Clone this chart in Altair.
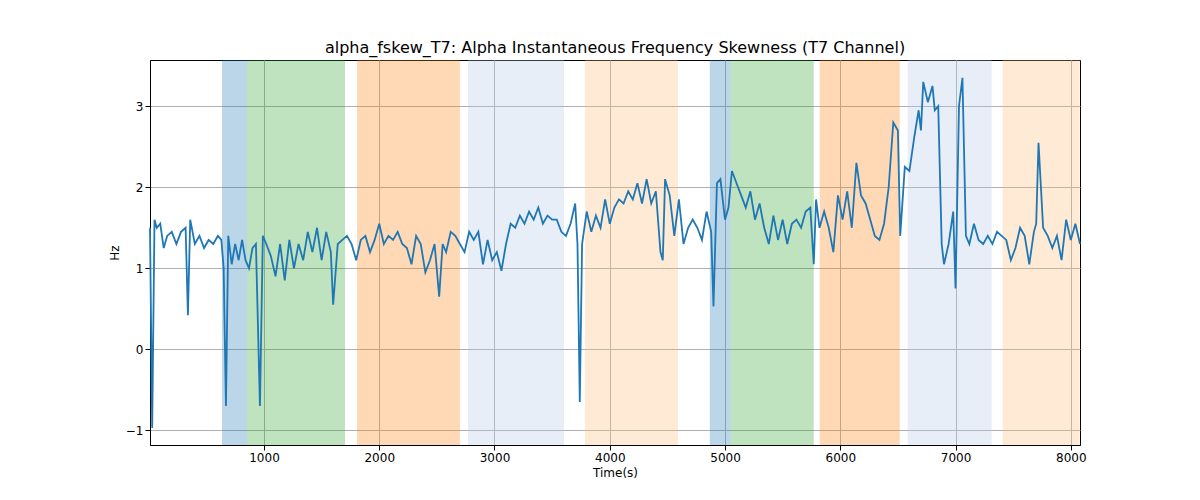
import altair as alt
import pandas as pd

# time (s) and skewness values
t = [11, 30, 50, 70, 100, 130, 160, 200, 240, 280, 320, 340, 360, 400, 440, 480, 520, 560, 600, 630,
     650, 670, 690, 720, 750, 780, 810, 840, 870, 900, 930, 965, 990, 1020, 1060, 1100, 1140, 1180, 1220, 1260,
     1300, 1340, 1380, 1420, 1460, 1500, 1540, 1580, 1600, 1640, 1680, 1720, 1760, 1800, 1840, 1880, 1920, 1960, 2000, 2040,
     2080, 2120, 2160, 2200, 2240, 2280, 2320, 2360, 2400, 2440, 2480, 2520, 2550, 2580, 2620, 2660, 2700, 2740, 2780, 2820,
     2860, 2900, 2940, 2980, 3020, 3060, 3100, 3140, 3180, 3220, 3260, 3300, 3340, 3380, 3420, 3460, 3500, 3540, 3580, 3620,
     3660, 3700, 3720, 3740, 3760, 3800, 3840, 3880, 3920, 3960, 4000, 4040, 4080, 4120, 4160, 4200, 4240, 4280, 4320, 4360,
     4400, 4440, 4460, 4480, 4520, 4560, 4600, 4640, 4680, 4720, 4760, 4800, 4840, 4880, 4900, 4930, 4960, 5000, 5030, 5060,
     5100, 5140, 5180, 5220, 5260, 5300, 5340, 5380, 5420, 5460, 5500, 5540, 5580, 5620, 5660, 5700, 5740, 5770, 5790, 5820,
     5860, 5900, 5940, 5980, 6020, 6060, 6100, 6140, 6180, 6220, 6260, 6300, 6340, 6380, 6420, 6460, 6500, 6520, 6560, 6600,
     6640, 6680, 6700, 6720, 6760, 6800, 6820, 6850, 6880, 6900, 6940, 6980, 7000, 7030, 7060, 7090, 7120, 7160, 7200, 7240,
     7280, 7320, 7360, 7400, 7440, 7480, 7520, 7560, 7600, 7640, 7680, 7700, 7720, 7760, 7800, 7840, 7880, 7920, 7960, 8000,
     8040, 8080]
hz = [1.5, -0.97, 1.6, 1.5, 1.55, 1.25, 1.4, 1.45, 1.3, 1.45, 1.5, 0.42, 1.6, 1.3, 1.4, 1.25, 1.35, 1.3, 1.4, 1.35,
      1.0, -0.7, 1.4, 1.05, 1.3, 1.1, 1.35, 1.1, 1.0, 1.25, 1.3, -0.7, 1.4, 1.3, 1.15, 0.9, 1.3, 0.85, 1.35, 1.0,
      1.3, 1.1, 1.45, 1.2, 1.5, 1.1, 1.45, 1.2, 0.55, 1.3, 1.35, 1.4, 1.3, 1.1, 1.35, 1.4, 1.2, 1.35, 1.55, 1.3,
      1.4, 1.35, 1.45, 1.3, 1.25, 1.05, 1.4, 1.3, 0.95, 1.1, 1.3, 0.65, 1.3, 1.2, 1.45, 1.4, 1.3, 1.2, 1.45, 1.35,
      1.45, 1.05, 1.35, 1.1, 1.2, 0.97, 1.3, 1.55, 1.5, 1.65, 1.55, 1.7, 1.6, 1.75, 1.55, 1.65, 1.6, 1.6, 1.45, 1.4,
      1.55, 1.8, 1.3, -0.65, 1.3, 1.7, 1.45, 1.65, 1.5, 1.85, 1.55, 1.75, 1.85, 1.8, 1.95, 1.85, 2.05, 1.8, 2.1, 1.8,
      1.95, 1.2, 1.1, 2.1, 1.9, 1.4, 1.85, 1.3, 1.5, 1.6, 1.5, 1.35, 1.7, 1.45, 0.53, 2.05, 2.1, 1.6, 1.75, 2.2,
      2.05, 1.9, 1.75, 1.95, 1.6, 1.8, 1.5, 1.3, 1.65, 1.35, 1.6, 1.3, 1.55, 1.6, 1.5, 1.7, 1.75, 1.05, 1.85, 1.5,
      1.7, 1.5, 1.2, 1.9, 1.6, 1.95, 1.5, 2.3, 1.9, 1.8, 1.6, 1.4, 1.35, 1.55, 2.0, 2.8, 2.7, 1.4, 2.25, 2.2,
      2.6, 2.95, 2.7, 3.3, 3.05, 3.25, 2.95, 3.0, 1.3, 1.05, 1.3, 1.7, 0.75, 3.0, 3.35, 1.4, 1.3, 1.55, 1.35, 1.3,
      1.4, 1.3, 1.45, 1.4, 1.35, 1.1, 1.25, 1.5, 1.4, 1.05, 1.45, 1.55, 2.55, 1.5, 1.4, 1.25, 1.4, 1.1, 1.6, 1.35,
      1.55, 1.3]

# shaded intervals
span_start = [636, 853, 1807, 2770, 3785, 4868, 5050, 5822, 6585, 7408]
span_end = [853, 1703, 2700, 3603, 4592, 5050, 5770, 6516, 7313, 8077]
span_color = ["#1f77b4", "#2ca02c", "#ff7f0e", "#aec7e8", "#ffbb78",
              "#1f77b4", "#2ca02c", "#ff7f0e", "#aec7e8", "#ffbb78"]

df = pd.DataFrame({"t": t, "hz": hz})
spans = pd.DataFrame({"a": span_start, "b": span_end, "c": span_color})

xs = alt.Scale(domain=[11, 8080], nice=False, zero=False)
ys = alt.Scale(domain=[-1.18, 3.57], nice=False, zero=False)

bands = alt.Chart(spans).mark_rect(opacity=0.3).encode(
    x=alt.X("a:Q", scale=xs),
    x2="b:Q",
    color=alt.Color("c:N", scale=None),
)

line = alt.Chart(df).mark_line(color="#1f77b4", strokeWidth=1.8).encode(
    x=alt.X("t:Q", scale=xs, title="Time(s)",
            axis=alt.Axis(values=[1000, 2000, 3000, 4000, 5000, 6000, 7000, 8000], format="d")),
    y=alt.Y("hz:Q", scale=ys, title="Hz", axis=alt.Axis(values=[-1, 0, 1, 2, 3])),
)

chart = (bands + line).properties(
    width=930, height=385,
    padding={"left": 100, "top": 32, "right": 5, "bottom": 5},
    title=alt.TitleParams("alpha_fskew_T7: Alpha Instantaneous Frequency Skewness (T7 Channel)",
                          fontSize=16, fontWeight="normal", font="DejaVu Sans"),
).configure_axis(
    grid=True, gridColor="#b0b0b0", domainColor="black", tickColor="black",
    labelFont="DejaVu Sans", titleFont="DejaVu Sans", labelFontSize=12, titleFontSize=12,
    titleFontWeight="normal", labelColor="black", titleColor="black",
).configure_view(stroke="black")

chart.save("out.html", embed_options={"renderer": "svg", "actions": False})
